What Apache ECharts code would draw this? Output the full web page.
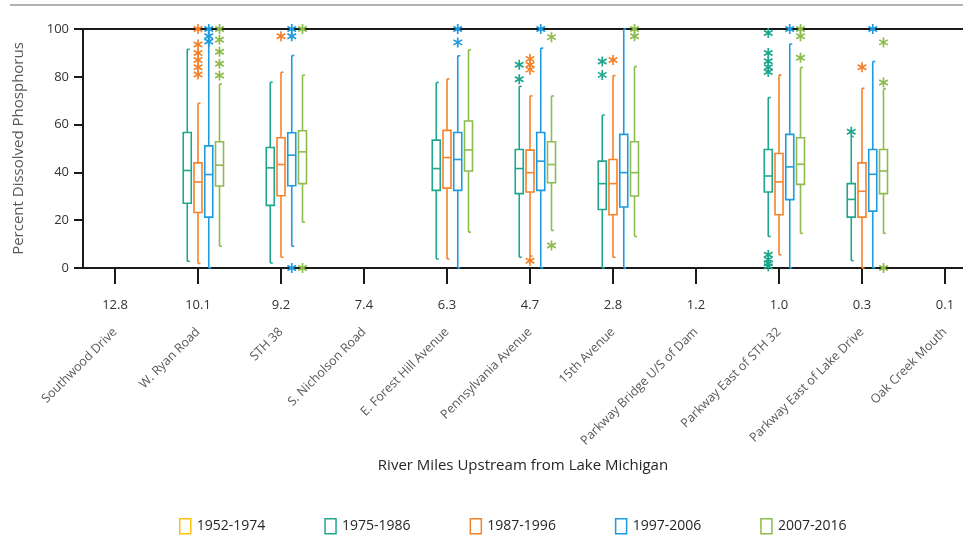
<!DOCTYPE html>
<html>
<head>
<meta charset="utf-8">
<script src="https://cdn.jsdelivr.net/npm/echarts@6/dist/echarts.min.js"></script>
<style>html,body{margin:0;padding:0;background:#fff;}#c{width:963px;height:537px;}</style>
</head>
<body>
<div id="c"></div>
<script>
// ---------- data ----------
const miles = ['12.8','10.1','9.2','7.4','6.3','4.7','2.8','1.2','1.0','0.3','0.1'];
const sites = ['Southwood Drive','W. Ryan Road','STH 38','S. Nicholson Road','E. Forest Hill Avenue','Pennsylvania Avenue','15th Avenue','Parkway Bridge U/S of Dam','Parkway East of STH 32','Parkway East of Lake Drive','Oak Creek Mouth'];
const seriesNames = ['1952-1974','1975-1986','1987-1996','1997-2006','2007-2016'];
const yTicks = [0, 20, 40, 60, 80, 100];

// [siteIndex, low whisker, Q1, median, Q3, high whisker]
const box1952 = [];
const box1975 = [
  [1, 2.8, 27.1, 40.8, 56.7, 91.5],
  [2, 2.1, 26.2, 41.9, 50.4, 77.7],
  [4, 3.8, 32.5, 41.6, 53.5, 77.6],
  [5, 4.5, 31.1, 41.6, 49.6, 76.0],
  [6, 0.0, 24.5, 35.3, 44.7, 64.0],
  [8, 13.2, 31.8, 38.5, 49.6, 71.3],
  [9, 3.1, 21.3, 28.7, 35.3, 55.0]
];
const box1987 = [
  [1, 1.9, 23.2, 36.0, 44.0, 68.9],
  [2, 4.5, 30.2, 43.3, 54.5, 81.9],
  [4, 3.8, 33.4, 46.2, 57.6, 79.1],
  [5, 5.0, 31.8, 39.9, 49.3, 72.0],
  [6, 4.5, 22.3, 35.3, 45.4, 80.5],
  [8, 5.5, 22.3, 36.0, 47.9, 80.8],
  [9, 0.0, 21.3, 32.1, 44.0, 75.2]
];
const box1997 = [
  [1, 0.0, 21.3, 39.1, 51.1, 100],
  [2, 9.1, 34.4, 47.2, 56.6, 88.9],
  [4, 0.0, 32.5, 45.4, 56.7, 88.8],
  [5, 0.0, 32.5, 44.7, 56.7, 92.0],
  [6, 0.0, 25.5, 39.9, 55.9, 100],
  [8, 0.0, 28.6, 42.3, 55.9, 93.7],
  [9, 0.0, 23.8, 39.2, 49.6, 86.4]
];
const box2007 = [
  [1, 9.1, 34.3, 43.0, 52.8, 77.0],
  [2, 19.2, 35.3, 48.6, 57.4, 80.7],
  [4, 15.0, 40.6, 49.4, 61.5, 91.3],
  [5, 15.7, 35.7, 43.3, 52.8, 72.0],
  [6, 13.2, 30.1, 39.9, 52.8, 84.3],
  [8, 14.5, 35.0, 43.4, 54.5, 83.9],
  [9, 14.5, 31.1, 40.6, 49.6, 75.0]
];

// outliers [siteIndex, value]
const out1975 = [[5,85],[5,79],[6,86.4],[6,80.8],[8,98.3],[8,90],[8,86.5],[8,84],[8,82],[8,5.5],[8,3.5],[8,2],[8,0.7],[9,57]];
const outCircle1975 = [[9,85],[9,80]];
const out1987 = [[1,100],[1,93.5],[1,90],[1,87],[1,84],[1,81],[2,97],[5,87.5],[5,85],[5,83],[5,3],[6,87],[9,84]];
const out1997 = [[1,100],[1,97],[1,94.8],[2,100],[2,97],[2,0],[4,100],[4,94.4],[5,100],[8,100],[9,100]];
const out2007 = [[1,100],[1,95.5],[1,90.5],[1,85.5],[1,80.5],[2,100],[2,0],[5,96.6],[5,9.4],[6,100],[6,97],[8,100],[8,97],[8,88],[9,94.4],[9,77.6],[9,0]];

// ---------- styling / layout ----------
const colors = ['#FFC20E','#1FA78E','#F5822A','#1C9BE0','#8DBB4C'];
const GRID_L = 83, GRID_R = 0, GRID_T = 29, GRID_B = 269;
const FIRST_TICK_PX = 115, TICK_STEP_PX = 83;
const plotW = 963 - GRID_L - GRID_R;
const XMIN = -(FIRST_TICK_PX - GRID_L) / TICK_STEP_PX;
const XMAX = XMIN + plotW / TICK_STEP_PX;
const slotPx = 10.75;
const offsets = [-2 * slotPx, -slotPx, 0, slotPx, 2 * slotPx];
const BOX_W = 8;
const LW = 1.6;
const FONT = 'Open Sans';
const tickVals = miles.map((m, i) => i);

function renderBox(offset, color) {
  return function (params, api) {
    const i = api.value(0);
    const x = api.coord([i, 0])[0] + offset;
    const yLo = api.coord([i, api.value(1)])[1];
    const yQ1 = api.coord([i, api.value(2)])[1];
    const yMed = api.coord([i, api.value(3)])[1];
    const yQ3 = api.coord([i, api.value(4)])[1];
    const yHi = api.coord([i, api.value(5)])[1];
    const h = BOX_W / 2;
    const st = { stroke: color, lineWidth: LW, fill: null };
    return {
      type: 'group',
      children: [
        { type: 'line', shape: { x1: x, y1: yHi, x2: x, y2: yQ3 }, style: st },
        { type: 'line', shape: { x1: x, y1: yHi, x2: x + 2.5, y2: yHi }, style: st },
        { type: 'line', shape: { x1: x, y1: yQ1, x2: x, y2: yLo }, style: st },
        { type: 'line', shape: { x1: x, y1: yLo, x2: x + 2.5, y2: yLo }, style: st },
        { type: 'rect', shape: { x: x - h, y: yQ3, width: BOX_W, height: yQ1 - yQ3 }, style: { stroke: color, lineWidth: LW, fill: 'rgba(0,0,0,0)' } },
        { type: 'line', shape: { x1: x - h, y1: yMed, x2: x + h, y2: yMed }, style: st }
      ]
    };
  };
}

const starPath = 'path://M5,0L5,10M0.67,2.5L9.33,7.5M0.67,7.5L9.33,2.5';

function outlierSeries(name, data, idx, symbol, size) {
  return {
    name: name, type: 'scatter', data: data, clip: false,
    xAxisIndex: 0, yAxisIndex: 0,
    symbol: symbol, symbolSize: size, symbolKeepAspect: true,
    symbolOffset: [offsets[idx], 0],
    itemStyle: { color: symbol === 'emptyCircle' ? '#fff' : colors[idx], borderColor: colors[idx], borderWidth: 1.7, opacity: 1 },
    emphasis: { disabled: true }, z: 3
  };
}

const boxes = [box1952, box1975, box1987, box1997, box2007];
const series = [];
boxes.forEach((b, k) => {
  series.push({
    name: seriesNames[k], type: 'custom', data: b, clip: false,
    xAxisIndex: 0, yAxisIndex: 0,
    encode: { x: 0, y: [1, 2, 3, 4, 5] },
    itemStyle: { color: colors[k] },
    renderItem: renderBox(offsets[k], colors[k]), z: 2
  });
});
series.push(outlierSeries(seriesNames[1], out1975, 1, starPath, 10));
series.push(outlierSeries(seriesNames[1], outCircle1975, 1, 'emptyCircle', 8));
series.push(outlierSeries(seriesNames[2], out1987, 2, starPath, 10));
series.push(outlierSeries(seriesNames[3], out1997, 3, starPath, 10));
series.push(outlierSeries(seriesNames[4], out2007, 4, starPath, 10));

const chart = echarts.init(document.getElementById('c'), null, { renderer: 'canvas' });
chart.setOption({
  animation: false,
  backgroundColor: '#ffffff',
  textStyle: { fontFamily: FONT },
  grid: { left: GRID_L, right: GRID_R, top: GRID_T, bottom: GRID_B },
  graphic: [{
    type: 'line', shape: { x1: 10, y1: 5, x2: 963, y2: 5 },
    style: { stroke: '#b3b3b3', lineWidth: 2 }, silent: true
  }],
  legend: {
    data: seriesNames.map((n, k) => ({ name: n, itemStyle: { color: 'rgba(0,0,0,0)', borderColor: colors[k], borderWidth: 1.5 } })),
    icon: 'rect', left: 174, top: 513, itemWidth: 11, itemHeight: 15, itemGap: 59,
    textStyle: { fontFamily: FONT, fontSize: 14, color: '#262626', padding: [0, 0, 0, 1] },
    selectedMode: false
  },
  xAxis: [
    {
      type: 'value', min: XMIN, max: XMAX, position: 'bottom',
      axisLine: { show: true, onZero: false, lineStyle: { color: '#1a1a1a', width: 2 } },
      axisTick: { show: true, customValues: tickVals, length: 16, inside: false, lineStyle: { color: '#1a1a1a', width: 2 } },
      axisLabel: { show: true, customValues: tickVals, formatter: v => miles[Math.round(v)], margin: 31, fontSize: 13, color: '#333', fontFamily: FONT },
      splitLine: { show: false },
      name: 'River Miles Upstream from Lake Michigan', nameLocation: 'middle', nameGap: 190,
      nameTextStyle: { fontSize: 15, color: '#262626', fontFamily: FONT }
    },
    {
      type: 'value', min: XMIN, max: XMAX, position: 'bottom',
      axisLine: { show: false }, axisTick: { show: false }, splitLine: { show: false },
      axisLabel: { show: true, customValues: tickVals, formatter: v => sites[Math.round(v)], rotate: 45, margin: 62, fontSize: 12.5, color: '#595959', fontFamily: FONT }
    },
    {
      type: 'value', min: XMIN, max: XMAX, position: 'top',
      axisLine: { show: true, onZero: false, lineStyle: { color: '#1a1a1a', width: 2 } },
      axisTick: { show: false }, axisLabel: { show: false }, splitLine: { show: false }
    }
  ],
  yAxis: {
    type: 'value', min: yTicks[0], max: yTicks[yTicks.length - 1], interval: 20,
    axisLine: { show: true, onZero: false, lineStyle: { color: '#1a1a1a', width: 2 } },
    axisTick: { show: true, length: 9, inside: false, lineStyle: { color: '#1a1a1a', width: 2 } },
    axisLabel: { margin: 14, fontSize: 13, color: '#333', fontFamily: FONT },
    splitLine: { show: false },
    name: 'Percent Dissolved Phosphorus', nameLocation: 'middle', nameGap: 57,
    nameTextStyle: { fontSize: 15, color: '#595959', fontFamily: FONT }
  },
  series: series
});
</script>
</body>
</html>
